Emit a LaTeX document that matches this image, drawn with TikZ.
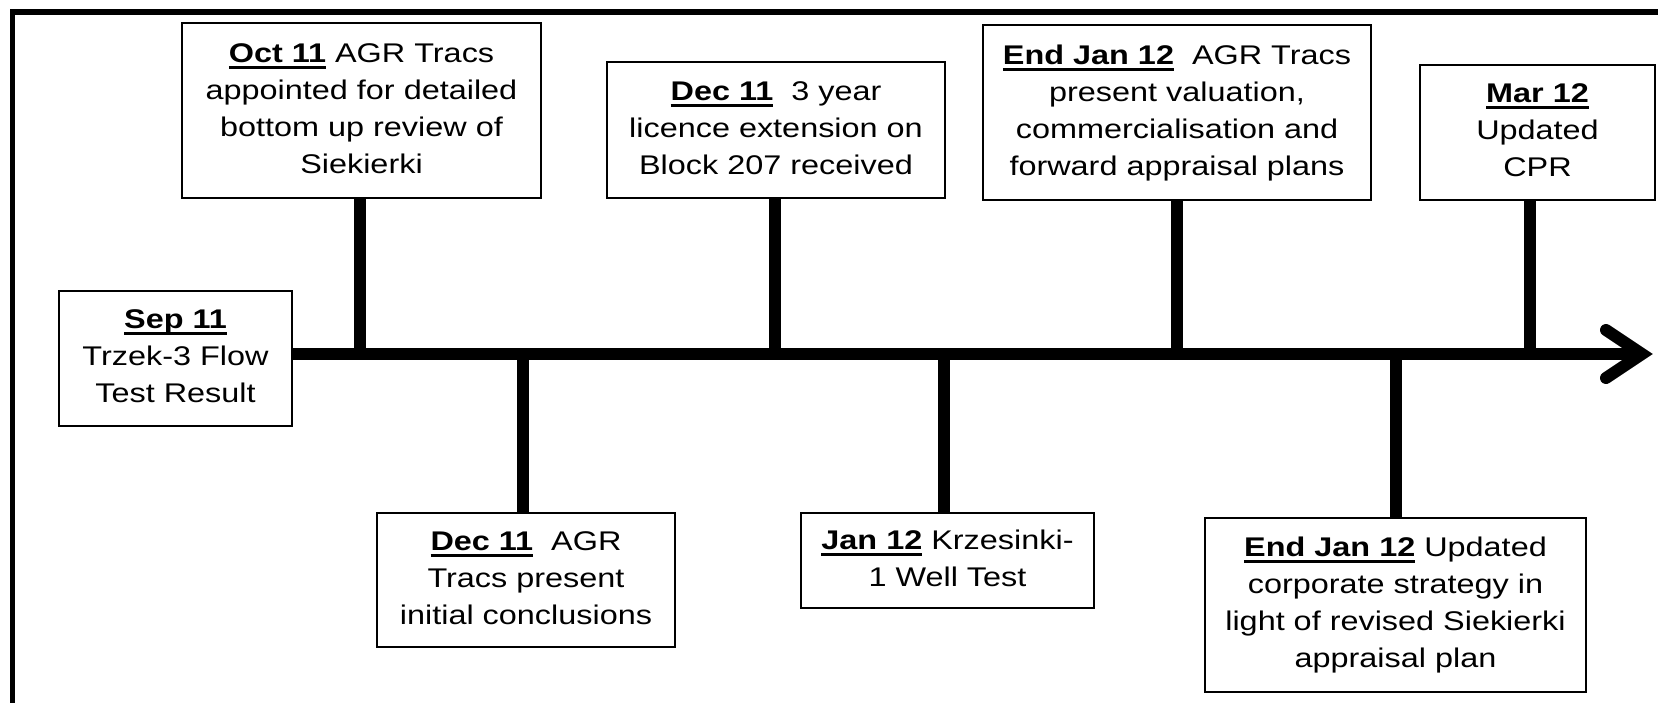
\documentclass[tikz,border=0pt]{standalone}
\usepackage{graphicx}
\usepackage{fontspec}
\setmainfont{Liberation Sans}

% bold, thickly underlined date at the head of each event
\newsavebox\dtbox
\newcommand\dt[1]{\sbox\dtbox{\bfseries #1}\rlap{\rule[-3.1pt]{\wd\dtbox}{1.4pt}}\usebox\dtbox}
% centred, slightly widened event text
\newcommand\evtext[1]{\scalebox{1.2}[1]{\begin{tabular}{@{}c@{}}#1\end{tabular}}}

\begin{document}
\begin{tikzpicture}[x=0.5pt,y=-0.5pt,
  evbox/.style 2 args={draw, line width=0.8pt, inner sep=0pt,
    minimum width=#1*0.5pt, minimum height=#2*0.5pt,
    font=\fontsize{13.5pt}{18.5pt}\selectfont},
  bar/.style={line width=6pt},
  frame/.style={line width=2.6pt}]
\useasboundingbox (0,0) rectangle (1658,702);
\clip (0,0) rectangle (1658,702);

% outer frame
\draw[frame] (12.5,730) -- (12.5,12) -- (1690,12);

% event boxes
\node[evbox={233}{135}] (sep) at (175.5,358.5)
  {\evtext{\dt{Sep 11}\\Trzek-3 Flow\\Test Result}};
\node[evbox={359}{175}] (oct) at (361.5,110.5)
  {\evtext{\dt{Oct 11} AGR Tracs\\appointed for detailed\\bottom up review of\\Siekierki}};
\node[evbox={338}{136}] (decA) at (776,130)
  {\evtext{\dt{Dec 11}\ \ 3 year\\licence extension on\\Block 207 received}};
\node[evbox={388}{175}] (endjanA) at (1177,112.5)
  {\evtext{\dt{End Jan 12}\ \ AGR Tracs\\present valuation,\\commercialisation and\\forward appraisal plans}};
\node[evbox={235}{135}] (mar) at (1537.5,132.5)
  {\evtext{\dt{Mar 12}\\Updated\\CPR}};
\node[evbox={298}{134}] (decB) at (526,580)
  {\evtext{\dt{Dec 11}\ \ AGR\\Tracs present\\initial conclusions}};
\node[evbox={293}{95}] (jan) at (947.5,560.5)
  {\evtext{\dt{Jan 12} Krzesinki-\\1 Well Test}};
\node[evbox={381}{174}] (endjanB) at (1395.5,605)
  {\evtext{\dt{End Jan 12} Updated\\corporate strategy in\\light of revised Siekierki\\appraisal plan}};

% time axis with open chevron head
\coordinate (tip) at (1642,354);
\coordinate (armU) at (1606,330);
\coordinate (armD) at (1606,378);
\draw[bar] (sep.east |- tip) -- (tip);
\draw[bar, line cap=round, line join=miter] (armU) -- (tip) -- (armD);

% stems joining each event to the axis
\draw[bar] ([xshift=-1pt]oct.south) -- ([xshift=-1pt]oct.south |- tip);
\draw[bar] ([xshift=-0.5pt]decA.south) -- ([xshift=-0.5pt]decA.south |- tip);
\draw[bar] (endjanA.south) -- (endjanA.south |- tip);
\draw[bar] ([xshift=-3.75pt]mar.south) -- ([xshift=-3.75pt]mar.south |- tip);
\draw[bar] ([xshift=-1.5pt]decB.north) -- ([xshift=-1.5pt]decB.north |- tip);
\draw[bar] ([xshift=-1.75pt]jan.north) -- ([xshift=-1.75pt]jan.north |- tip);
\draw[bar] (endjanB.north) -- (endjanB.north |- tip);
\end{tikzpicture}
\end{document}
